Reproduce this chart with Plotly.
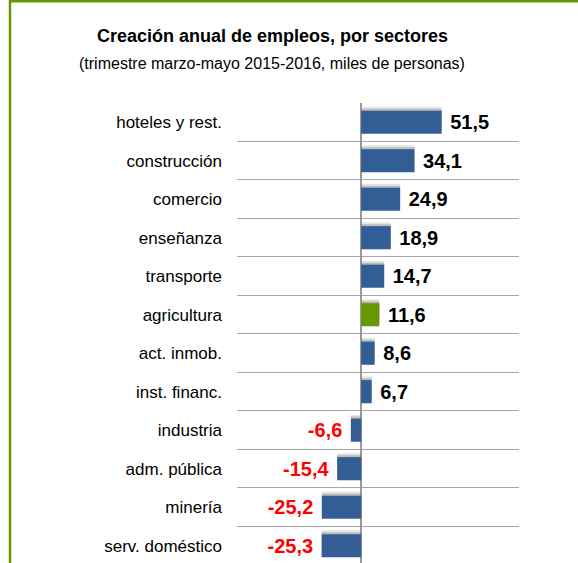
import plotly.graph_objects as go

sectores = ['hoteles y rest.', 'construcción', 'comercio', 'enseñanza', 'transporte',
            'agricultura', 'act. inmob.', 'inst. financ.', 'industria', 'adm. pública',
            'minería', 'serv. doméstico']
empleos = [51.5, 34.1, 24.9, 18.9, 14.7, 11.6, 8.6, 6.7, -6.6, -15.4, -25.2, -25.3]

titulo = 'Creación anual de empleos, por sectores'
subtitulo = '(trimestre marzo-mayo 2015-2016, miles de personas)'

W, H = 578, 563
ML, MR, MT, MB = 237, 59, 103, 0
pw, ph = W - ML - MR, H - MT - MB
FUENTE = 'Liberation Sans, Arial'


def px_x(x):
    return (x - ML) / pw


def px_y(y):
    return (H - MB - y) / ph


azul = '#335e95'
verde = '#669900'
colores = [verde if s == 'agricultura' else azul for s in sectores]
etiquetas = [('\u00a0' + '{:.1f}' if v > 0 else '{:.1f}' + '\u00a0').format(v).replace('.', ',')
             for v in empleos]
color_txt = ['black' if v > 0 else '#ff0000' for v in empleos]

fig = go.Figure()

# sombra difusa detrás de las barras
for off, col in [(-0.40, 'rgba(150,150,150,0.25)'), (-0.35, 'rgba(110,110,110,0.35)')]:
    fig.add_bar(x=empleos, y=sectores, orientation='h', width=0.6, offset=off,
                marker=dict(color=col, line=dict(width=0)), hoverinfo='skip')

fig.add_bar(x=empleos, y=sectores, orientation='h', width=0.6, offset=-0.3,
            marker=dict(color=colores, line=dict(width=0)),
            text=etiquetas, textposition='outside', constraintext='none', cliponaxis=False,
            outsidetextfont=dict(family=FUENTE, size=20, weight='bold', color=color_txt))

fig.update_layout(
    width=W, height=H, barmode='overlay', showlegend=False,
    margin=dict(l=ML, r=MR, t=MT, b=MB),
    paper_bgcolor='white', plot_bgcolor='white',
    font=dict(family=FUENTE, color='black'),
    xaxis=dict(range=[-79.5, 101], showgrid=False, showticklabels=False,
               zeroline=True, zerolinecolor='#9a9a9a', zerolinewidth=1.5),
    yaxis=dict(categoryorder='array', categoryarray=sectores, range=[11.45, -0.5],
               tickson='boundaries', showgrid=True, gridcolor='#a8a8a8', gridwidth=1,
               ticks='', ticklabelstandoff=14, tickfont=dict(size=17, color='black')),
    shapes=[
        dict(type='line', xref='paper', yref='paper', x0=px_x(10), x1=px_x(W + 5),
             y0=px_y(1), y1=px_y(1), line=dict(color=verde, width=3)),
        dict(type='line', xref='paper', yref='paper', x0=px_x(10), x1=px_x(10),
             y0=px_y(0), y1=px_y(H + 5), line=dict(color=verde, width=2.5)),
    ],
    annotations=[
        dict(text='<b>' + titulo + '</b>', xref='paper', yref='paper', x=px_x(272), y=px_y(36),
             xanchor='center', yanchor='middle', showarrow=False, font=dict(size=18)),
        dict(text=subtitulo, xref='paper', yref='paper', x=px_x(272), y=px_y(63),
             xanchor='center', yanchor='middle', showarrow=False, font=dict(size=16)),
    ],
)

fig.write_html('out.html', config={'displayModeBar': False},
               post_script="document.body.style.margin='0px';")
